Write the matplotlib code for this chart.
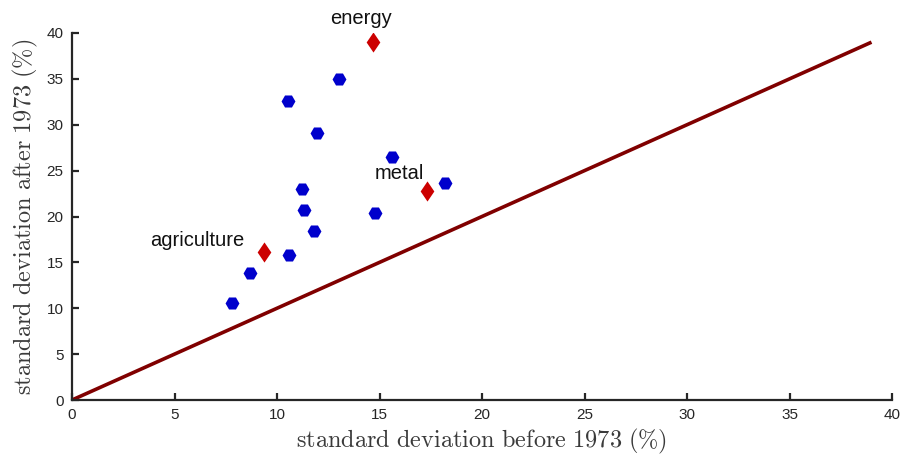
import matplotlib
matplotlib.use("Agg")
import matplotlib.pyplot as plt
from matplotlib.path import Path

# Data: standard deviation before vs after 1973 (%)
commod_before = [7.8, 8.7, 10.6, 11.8, 11.3, 11.2, 11.95, 10.55, 13.0, 14.8, 15.6, 18.2]
commod_after = [10.6, 13.8, 15.8, 18.4, 20.7, 23.0, 29.1, 32.6, 35.0, 20.4, 26.5, 23.6]

index_names = ["energy", "metal", "agriculture"]
index_before = [14.7, 17.3, 9.35]
index_after = [39.0, 22.8, 16.1]

line_x = [0, 39]
line_y = [0, 39]

x_ticks = [0, 5, 10, 15, 20, 25, 30, 35, 40]
y_ticks = [0, 5, 10, 15, 20, 25, 30, 35, 40]

plt.rcParams['mathtext.fontset'] = 'cm'
plt.rcParams['font.family'] = ['Liberation Sans', 'DejaVu Sans']

fig = plt.figure(figsize=(9.04, 4.59), dpi=100)
ax = fig.add_axes([72/904, 59/459, 820/904, 367/459])

diamond = Path([(0, 1), (0.68, 0), (0, -1), (-0.68, 0), (0, 1)],
               [Path.MOVETO, Path.LINETO, Path.LINETO, Path.LINETO, Path.CLOSEPOLY])

ax.plot(line_x, line_y, color='#800000', lw=2.6, solid_capstyle='butt', zorder=2)
ax.plot(commod_before, commod_after, linestyle='none', marker='H', markersize=10,
        color='#0000cc', markeredgewidth=0, zorder=3)
ax.plot(index_before, index_after, linestyle='none', marker=diamond, markersize=14.5,
        color='#cc0000', markeredgewidth=0, zorder=3)

offsets = {"energy": (-0.6, 2.6), "metal": (-1.35, 1.85), "agriculture": (-3.25, 1.3)}
for name, xv, yv in zip(index_names, index_before, index_after):
    dx, dy = offsets[name]
    ax.text(xv + dx, yv + dy, name, ha='center', va='center', fontsize=14.5, color='#111111')

ax.set_xlim(0, 40)
ax.set_ylim(0, 40)
ax.set_xticks(x_ticks)
ax.set_yticks(y_ticks)
ax.set_xticklabels([str(t) for t in x_ticks])
ax.set_yticklabels([str(t) for t in y_ticks])

for s in ['top', 'right']:
    ax.spines[s].set_visible(False)
for s in ['left', 'bottom']:
    ax.spines[s].set_color('#262626')
    ax.spines[s].set_linewidth(1.6)
ax.tick_params(direction='in', length=5, width=1.6, color='#262626',
               labelsize=11, labelcolor='#262626', pad=6)

ax.set_xlabel(r'$\mathrm{standard\ deviation\ before\ 1973\ (\%)}$', fontsize=17.5,
              color='#3a3a3a', labelpad=3)
ax.set_ylabel(r'$\mathrm{standard\ deviation\ after\ 1973\ (\%)}$', fontsize=17.5,
              color='#3a3a3a', labelpad=5)

fig.savefig('out.png', dpi=100)
